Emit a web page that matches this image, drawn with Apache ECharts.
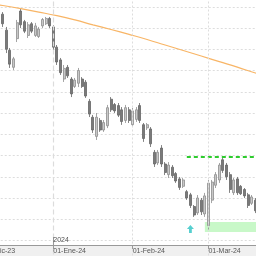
<!DOCTYPE html>
<html>
<head>
<meta charset="utf-8">
<script src="https://cdn.jsdelivr.net/npm/echarts@6/dist/echarts.min.js"></script>
<style>
  html, body { margin: 0; padding: 0; background: #fff; }
  #chart { width: 256px; height: 256px; }
</style>
</head>
<body>
<div id="chart"></div>
<script>
// trading calendar (weekdays, market holidays removed)
const START_DAY = "2023-12-01";
const END_DAY = "2024-03-22";
const HOLIDAYS = ["2023-12-25", "2023-12-26", "2024-01-01"];
const MONTHS = ["Ene", "Feb", "Mar", "Abr", "May", "Jun", "Jul", "Ago", "Sep", "Oct", "Nov", "Dic"];

// daily bars, first one on FIRST_BAR
const FIRST_BAR = "2023-12-08";
const opens = [206.5, 199.0, 189.5, 181.5, 195.0, 208.0, 203.0, 196.5, 202.0, 196.5,
  196.0, 201.0, 202.0, 204.5, 200.5, 191.0, 185.0, 176.0, 181.5, 176.0,
  172.5, 174.0, 176.0, 174.5, 165.5, 158.0, 149.0, 156.5, 152.0, 154.0,
  166.5, 164.0, 163.5, 161.5, 156.5, 161.5, 154.5, 157.0, 163.5, 154.5,
  153.0, 152.5, 141.5, 136.5, 143.5, 136.0, 131.0, 134.5, 131.5, 129.0,
  125.5, 123.0, 121.5, 116.0, 113.0, 119.0, 112.5, 107.0, 119.0, 126.0,
  128.5, 138.0, 135.5, 131.0, 122.5, 129.0, 125.5, 124.0, 121.5, 117.5, 119.0];
const closes = [202.0, 190.0, 183.0, 185.5, 202.5, 201.5, 198.5, 201.5, 198.5, 201.0,
  199.5, 204.0, 204.5, 201.0, 191.0, 184.0, 179.0, 181.0, 177.5, 169.0,
  175.5, 180.0, 172.5, 168.0, 159.5, 152.0, 158.0, 152.0, 155.5, 162.5,
  161.5, 161.0, 159.0, 156.0, 162.5, 156.5, 161.0, 161.5, 156.5, 148.0,
  154.5, 145.5, 136.0, 141.5, 136.0, 132.0, 135.5, 130.5, 128.0, 125.0,
  128.5, 120.0, 116.5, 112.0, 120.0, 113.5, 121.0, 127.0, 127.5, 131.0,
  135.5, 133.0, 130.0, 124.0, 128.5, 122.5, 122.0, 121.0, 116.5, 120.5, 114.0];
const highs = [207.5, 200.5, 190.6, 186.4, 203.8, 209.4, 203.8, 202.8, 202.8, 202.4,
  200.5, 204.7, 205.2, 205.2, 201.4, 192.0, 185.9, 182.6, 182.6, 176.9,
  176.5, 181.2, 176.9, 175.5, 166.6, 159.1, 160.0, 157.6, 156.7, 163.8,
  167.5, 164.7, 164.7, 162.8, 163.8, 162.8, 162.4, 162.8, 164.7, 155.3,
  155.3, 153.4, 142.6, 142.6, 144.9, 136.9, 136.9, 135.5, 132.2, 129.9,
  129.4, 123.8, 122.4, 116.7, 121.4, 120.0, 122.4, 128.5, 128.5, 132.2,
  136.5, 139.3, 136.5, 132.2, 129.4, 129.9, 126.1, 124.7, 122.4, 121.4, 120.0];
const lows = [200.5, 188.2, 181.2, 180.2, 193.4, 200.0, 197.6, 195.3, 197.6, 195.8,
  195.3, 200.0, 201.4, 200.0, 189.6, 182.6, 177.9, 174.6, 176.5, 167.5,
  171.8, 172.2, 171.8, 167.1, 158.1, 150.6, 147.3, 151.1, 151.1, 152.9,
  160.5, 160.0, 158.1, 154.4, 155.3, 155.3, 153.4, 155.8, 155.3, 146.4,
  152.0, 144.0, 134.6, 135.5, 134.6, 130.8, 129.4, 129.4, 127.1, 123.8,
  124.7, 119.1, 115.3, 111.1, 112.0, 112.0, 111.1, 104.5, 117.6, 124.7,
  127.1, 131.8, 128.5, 122.4, 121.4, 121.4, 121.4, 120.0, 115.3, 116.7, 112.9];

// long moving average
const maDates = ["2023-12-01", "2023-12-08", "2023-12-15", "2023-12-22", "2024-01-03", "2024-01-10",
  "2024-01-17", "2024-01-24", "2024-01-31", "2024-02-07", "2024-02-14", "2024-02-21",
  "2024-02-28", "2024-03-06", "2024-03-13", "2024-03-20", "2024-03-22"];
const maValues = [212.0, 210.6, 209.1, 207.5, 205.8, 203.8, 201.5, 199.3, 197.0, 194.6,
  192.0, 189.4, 186.8, 184.2, 181.6, 178.8, 177.9];

const resistance = { from: "2024-02-22", to: "2024-03-22", value: 139.3 };
const zone = { from: "2024-02-29", to: "2024-03-22", top: 108.7, bottom: 104.0 };
const signal = { date: "2024-02-23", value: 105.4 };

function iso(d) { return d.toISOString().slice(0, 10); }
const days = [];
for (let d = new Date(START_DAY + "T00:00:00Z"); d <= new Date(END_DAY + "T00:00:00Z"); d.setUTCDate(d.getUTCDate() + 1)) {
  const wd = d.getUTCDay();
  if (wd === 0 || wd === 6 || HOLIDAYS.includes(iso(d))) continue;
  days.push(iso(d));
}
const monthStart = new Set(days.filter((d, i) => i === 0 || d.slice(5, 7) !== days[i - 1].slice(5, 7)));
const yearStart = new Set(days.filter((d, i) => i > 0 && d.slice(0, 4) !== days[i - 1].slice(0, 4)));

const first = days.indexOf(FIRST_BAR);
const bars = days.map((d, i) => {
  const k = i - first;
  if (k < 0 || k >= highs.length) return "-";
  return [opens[k], closes[k], lows[k], highs[k]];
});

const AXIS_Y = 245;
const chart = echarts.init(document.getElementById("chart"), null, { renderer: "canvas" });
const gridTop = -14.5, gridBottom = 256 - 261.75;
const FONT = "Liberation Sans Narrow, Liberation Sans, sans-serif";

chart.setOption({
  animation: false,
  graphic: [{
    type: "rect", z: 1, silent: true,
    shape: { x: 0, y: AXIS_Y, width: 256, height: 256 - AXIS_Y },
    style: { fill: "#f0f0f0" },
  }],
  grid: { left: -15.27, right: -6.6, top: gridTop, bottom: gridBottom, outerBoundsMode: "none", containLabel: false },
  xAxis: [{
    type: "category", data: days, boundaryGap: false, position: "bottom",
    offset: -(261.75 - AXIS_Y), z: 10,
    axisLine: { lineStyle: { color: "#999", width: 1 } },
    axisTick: { interval: (i, v) => monthStart.has(v), length: 4, lineStyle: { color: "#999" } },
    axisLabel: {
      interval: (i, v) => monthStart.has(v), align: "left", margin: 3,
      fontSize: 7, color: "#555", fontFamily: FONT,
      formatter: (v) => "01-" + MONTHS[+v.slice(5, 7) - 1] + "-" + v.slice(2, 4),
    },
    splitLine: {
      show: true, interval: (i, v) => monthStart.has(v) && !yearStart.has(v),
      lineStyle: { color: "#ddd", type: [2, 2], width: 1 },
    },
  }, {
    type: "category", data: days, boundaryGap: false, position: "bottom",
    offset: -(261.75 - AXIS_Y), z: 10,
    axisLine: { show: false },
    axisTick: { inside: true, interval: (i, v) => yearStart.has(v), length: 8, lineStyle: { color: "#999" } },
    axisLabel: {
      inside: true, interval: (i, v) => yearStart.has(v), align: "left", margin: 1,
      fontSize: 7, color: "#555", fontFamily: FONT,
      formatter: (v) => v.slice(0, 4),
    },
    splitLine: {
      show: true, interval: (i, v) => yearStart.has(v),
      lineStyle: { color: "#dcdcdc", type: [5, 3], width: 1.2 },
    },
  }],
  yAxis: {
    type: "value", position: "right", min: 90, max: 220, interval: 10,
    axisLine: { show: false }, axisTick: { show: false }, axisLabel: { show: false },
    splitLine: { lineStyle: { color: "#ddd", type: [2, 2], width: 1 } },
  },
  series: [{
    type: "line", data: maDates.map((d, i) => [d, maValues[i]]),
    showSymbol: false, smooth: true, silent: true,
    lineStyle: { color: "#f8b566", width: 1.2 },
  }, {
    type: "candlestick", data: bars, barWidth: 2.5, silent: true,
    itemStyle: { color: "#c8c8c8", color0: "#7a7a7a", borderColor: "#8e8e8e", borderColor0: "#666", borderWidth: 0.8 },
    markLine: {
      silent: true, symbol: "none", label: { show: false },
      lineStyle: { color: "#2ecc2e", type: [4, 3], width: 2 },
      data: [[{ coord: [resistance.from, resistance.value] }, { coord: [resistance.to, resistance.value] }]],
    },
    markArea: {
      silent: true, itemStyle: { color: "#c8f8c8" },
      data: [[{ coord: [zone.from, zone.top] }, { coord: [zone.to, zone.bottom] }]],
    },
  }, {
    type: "scatter", data: [[signal.date, signal.value]],
    symbol: "path://M5,0L10,5L7,5L7,10L3,10L3,5L0,5Z", symbolSize: [7, 8],
    itemStyle: { color: "#2cc3c3" }, silent: true,
  }],
});
</script>
</body>
</html>
